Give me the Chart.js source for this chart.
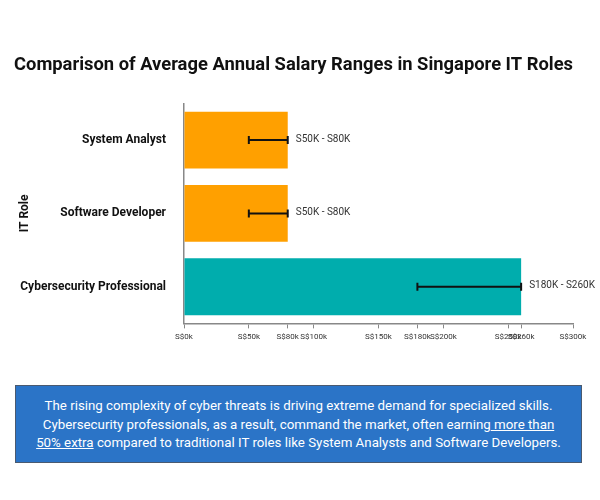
<!DOCTYPE html>
<html lang="en">
    <head>
        <meta charset="UTF-8" />
        <title>Singapore IT Salary Ranges</title>
        <script src="https://cdn.jsdelivr.net/npm/chart.js@4.4.1/dist/chart.umd.min.js"></script>
        <style>
            body { margin: 0; background: #fff; font-family: Roboto, sans-serif; }
            .note {
                position: absolute;
                left: 15px;
                top: 385px;
                width: 567px;
                height: 78px;
                box-sizing: border-box;
                background: #2b74c7;
                border: 1px solid #4a5a70;
                color: #fff;
                font-size: 13.3px;
                line-height: 18.5px;
                text-align: center;
                padding-top: 11px;
            }
            .note u { text-decoration: underline; }
        </style>
    </head>
    <body>
        <div style="width: 600px; height: 370px; position: relative">
            <canvas id="salaryChart"></canvas>
        </div>
        <div class="note">
            The rising complexity of cyber threats is driving extreme demand for specialized skills.<br>
            Cybersecurity professionals, as a result, command the market, often earning<u> more than<br>
            50% extra</u> compared to traditional IT roles like System Analysts and Software Developers.
        </div>
        <script>
            const roles = ["System Analyst", "Software Developer", "Cybersecurity Professional"];
            const salaryMin = [50, 50, 180];
            const salaryMax = [80, 80, 260];
            const barColors = ["#ffa000", "#ffa000", "#00adad"];
            const tickValues = [0, 50, 80, 100, 150, 180, 200, 250, 260, 300];

            // error bars + range labels
            const rangePlugin = {
                id: "rangeBars",
                afterDatasetsDraw(chart) {
                    const ctx = chart.ctx;
                    const x = chart.scales.x;
                    const meta = chart.getDatasetMeta(0);
                    ctx.save();
                    meta.data.forEach(function (bar, i) {
                        const y = bar.y;
                        const x1 = x.getPixelForValue(salaryMin[i]);
                        const x2 = x.getPixelForValue(salaryMax[i]);
                        ctx.strokeStyle = "#111";
                        ctx.lineWidth = 2;
                        ctx.beginPath();
                        ctx.moveTo(x1, y);
                        ctx.lineTo(x2, y);
                        ctx.moveTo(x1, y - 4);
                        ctx.lineTo(x1, y + 4);
                        ctx.moveTo(x2, y - 4);
                        ctx.lineTo(x2, y + 4);
                        ctx.stroke();
                        ctx.fillStyle = "#333";
                        ctx.font = "10px Roboto";
                        ctx.textBaseline = "middle";
                        ctx.textAlign = "left";
                        ctx.fillText("S" + salaryMin[i] + "K - S" + salaryMax[i] + "K", x2 + 8, y - 1);
                    });
                    ctx.restore();
                },
            };

            new Chart(document.getElementById("salaryChart"), {
                type: "bar",
                data: {
                    labels: roles,
                    datasets: [
                        {
                            data: salaryMax,
                            backgroundColor: barColors,
                            barPercentage: 0.775,
                            categoryPercentage: 1,
                        },
                    ],
                },
                plugins: [rangePlugin],
                options: {
                    indexAxis: "y",
                    responsive: true,
                    maintainAspectRatio: false,
                    animation: false,
                    layout: { padding: { left: 14, right: 27, top: 0, bottom: 24 } },
                    plugins: {
                        legend: { display: false },
                        tooltip: { enabled: false },
                        title: {
                            display: true,
                            text: "Comparison of Average Annual Salary Ranges in Singapore IT Roles",
                            color: "#111",
                            font: { family: "Roboto", size: 18.7, weight: "bold" },
                            padding: { top: 54, bottom: 27 },
                        },
                    },
                    scales: {
                        x: {
                            type: "linear",
                            min: 0,
                            max: 300,
                            afterBuildTicks(axis) {
                                axis.ticks = tickValues.map(function (v) {
                                    return { value: v };
                                });
                            },
                            ticks: {
                                autoSkip: false,
                                maxRotation: 0,
                                color: "#333",
                                font: { family: "Roboto", size: 8 },
                                padding: 4,
                                callback: function (v) {
                                    return "S$" + v + "k";
                                },
                            },
                            grid: { drawOnChartArea: false, tickLength: 5, color: "#888" },
                            border: { color: "#888", width: 1.5 },
                        },
                        y: {
                            afterFit(axis) {
                                axis.width = 170;
                            },
                            ticks: {
                                color: "#111",
                                font: { family: "Roboto", size: 12, weight: "bold" },
                                padding: 10,
                            },
                            grid: { display: false },
                            border: { color: "#888", width: 1.5 },
                            title: {
                                display: true,
                                text: "IT Role",
                                color: "#111",
                                font: { family: "Roboto", size: 12, weight: "bold" },
                            },
                        },
                    },
                },
            });
        </script>
    </body>
</html>
